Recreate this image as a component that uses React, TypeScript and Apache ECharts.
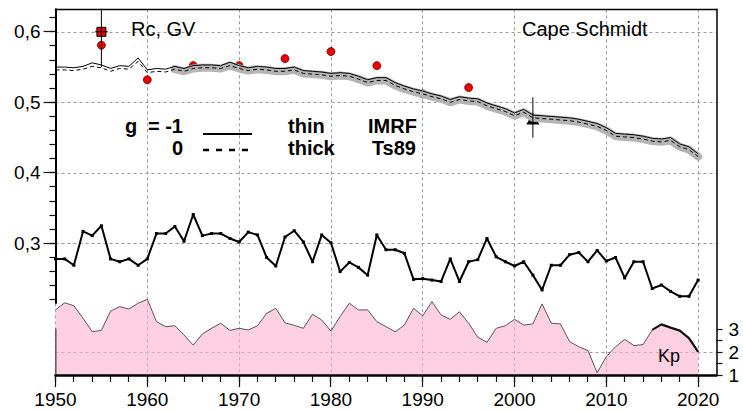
import { useEffect, useRef } from 'react';
import * as echarts from 'echarts';

// ---------- data ----------
const years: number[] = Array.from({ length: 71 }, (_, i) => 1950 + i);

// Cutoff rigidity, g = -1, IMRF (thin solid)
const rcImrf = [
  0.550, 0.550, 0.549, 0.551, 0.556, 0.553, 0.548, 0.552, 0.551, 0.563,
  0.546, 0.548, 0.547, 0.551, 0.548, 0.552, 0.553, 0.553, 0.552, 0.557,
  0.552, 0.549, 0.551, 0.550, 0.548, 0.548, 0.550, 0.545, 0.544, 0.543,
  0.541, 0.542, 0.541, 0.537, 0.532, 0.535, 0.535, 0.528, 0.523, 0.519,
  0.516, 0.512, 0.509, 0.504, 0.508, 0.506, 0.505, 0.499, 0.495, 0.491,
  0.485, 0.490, 0.482, 0.481, 0.480, 0.479, 0.478, 0.476, 0.473, 0.470,
  0.464, 0.456, 0.455, 0.454, 0.452, 0.449, 0.448, 0.450, 0.441, 0.437, 0.427,
];

// Cutoff rigidity, g = 0, Ts89 (dashed)
const rcTs89 = [
  0.546, 0.546, 0.545, 0.547, 0.551, 0.549, 0.544, 0.548, 0.547, 0.558,
  0.542, 0.544, 0.543, 0.547, 0.544, 0.548, 0.549, 0.549, 0.548, 0.552,
  0.548, 0.545, 0.547, 0.546, 0.544, 0.544, 0.546, 0.541, 0.540, 0.539,
  0.537, 0.538, 0.537, 0.533, 0.528, 0.531, 0.531, 0.524, 0.519, 0.515,
  0.512, 0.508, 0.505, 0.500, 0.504, 0.502, 0.501, 0.495, 0.491, 0.487,
  0.481, 0.486, 0.478, 0.477, 0.476, 0.475, 0.474, 0.472, 0.469, 0.466,
  0.460, 0.452, 0.451, 0.450, 0.448, 0.445, 0.444, 0.446, 0.437, 0.433, 0.423,
];
const bandStartYear = 1963;

// Middle (thick black) curve
const rcMid = [
  0.278, 0.278, 0.269, 0.317, 0.311, 0.325, 0.278, 0.274, 0.278, 0.269,
  0.278, 0.314, 0.314, 0.324, 0.303, 0.341, 0.311, 0.314, 0.314, 0.307,
  0.302, 0.316, 0.312, 0.280, 0.268, 0.309, 0.318, 0.302, 0.274, 0.312,
  0.301, 0.260, 0.273, 0.266, 0.255, 0.312, 0.291, 0.291, 0.286, 0.249,
  0.250, 0.248, 0.246, 0.278, 0.246, 0.274, 0.277, 0.307, 0.281, 0.274,
  0.268, 0.274, 0.255, 0.234, 0.269, 0.269, 0.284, 0.287, 0.274, 0.290,
  0.275, 0.280, 0.251, 0.274, 0.274, 0.236, 0.241, 0.232, 0.225, 0.225, 0.248,
];

// Kp index (pink area)
const kp = [
  3.83, 4.14, 4.01, 3.47, 2.88, 2.94, 3.78, 3.97, 3.87, 4.12,
  4.29, 3.32, 3.10, 3.14, 2.74, 2.30, 2.78, 3.03, 3.25, 2.94,
  3.03, 2.96, 3.14, 3.68, 3.90, 3.27, 3.16, 3.03, 3.64, 3.39,
  2.91, 3.54, 4.12, 3.83, 3.83, 3.32, 3.10, 2.88, 3.17, 3.90,
  3.57, 4.19, 3.61, 3.42, 3.75, 3.25, 2.64, 2.42, 3.03, 3.14,
  3.42, 3.17, 3.22, 4.09, 3.25, 3.22, 2.45, 2.23, 2.06, 1.10,
  1.80, 2.23, 2.55, 2.28, 2.32, 2.96, 3.20, 3.06, 2.93, 2.60, 2.01,
];
const kpThickStartYear = 2015;

// Measured Rc (red dots)
const obsYears = [1955, 1960, 1965, 1970, 1975, 1980, 1985, 1990, 1995];
const obsValues = [0.581, 0.532, 0.552, 0.552, 0.562, 0.572, 0.552, 0.512, 0.521];

// Reference point (red square) with error bars
const refYear = 1955;
const refValue = 0.600;
const refErrLow = 0.550;
const refErrHigh = 0.640;
const refYearErr = [1954.3, 1955.7];

// Triangle point with error bar
const triYear = 2002;
const triValue = 0.477;
const triErrLow = 0.450;
const triErrHigh = 0.507;

// Axis ticks
const xMin = 1950, xMax = 2022, xTickMax = 2020, xInterval = 10, xMinorInterval = 2;
const yMajorMin = 0.3, yMajorMax = 0.6, yMajorInterval = 0.1;
const yMinorMin = 0.22, yMinorMax = 0.62, yMinorInterval = 0.02;
const kpTickMin = 1, kpTickMax = 3, kpTickInterval = 0.5;

// ---------- layout ----------
const FONT = '"Liberation Sans", Arial, sans-serif';
const W = 743, H = 412;
const L = 55.5;
const R = 26.5;
const TOP = 9.3;
const BOT = 37;
const pxPerUnit = (243.4 - 31.8) / 0.3;
const yAt = (v: number) => 31.8 + (0.6 - v) * pxPerUnit;
const rcAxisMax = 0.6 + (31.8 - TOP) / pxPerUnit;
const rcAxisMin = 0.3 - (H - BOT - 243.4) / pxPerUnit;
const kpPx = (375 - 329) / 2;
const kpAxisMax = 1 + (H - BOT - TOP) / kpPx;
const xPx = (W - R - L) / (xMax - xMin);
const R2020 = W - (L + (xTickMax - xMin) * xPx);
const AXIS_Y = H - BOT;
const RIGHT_X = W - R;

const zip = (xs: number[], ys: number[]) => xs.map((x, i) => [x, ys[i]]);
const steps = (min: number, max: number, step: number) => {
  const out: number[] = [];
  const n = Math.round((max - min) / step);
  for (let i = 0; i <= n; i++) out.push(+(min + i * step).toFixed(6));
  return out;
};
const crisp = (v: number) => Math.round(v - 0.5) + 0.5;

function txt(text: string, x: number, y: number, size: number, weight: string, align: string) {
  return {
    type: 'text', x, y, z: 100,
    style: {
      text, fill: '#000', fontSize: size, fontWeight: weight, fontFamily: FONT,
      font: `${weight} ${size}px ${FONT}`,
      textAlign: align, align, textVerticalAlign: 'middle', verticalAlign: 'middle',
    },
  };
}

function seg(x1: number, y1: number, x2: number, y2: number) {
  return {
    type: 'line', z: 100,
    shape: { x1, y1, x2, y2 },
    style: { stroke: '#111', lineWidth: 1.2 },
  };
}

function staticGraphics(): any[] {
  return [
    txt('Rc, GV', 131, 29, 20, 'normal', 'left'),
    txt('Cape Schmidt', 522, 29, 20, 'normal', 'left'),
    txt('g', 125, 126, 20, 'bold', 'left'),
    txt('= -1', 183, 126, 20, 'bold', 'right'),
    txt('0', 183, 148, 20, 'bold', 'right'),
    txt('thin', 288, 126, 20, 'bold', 'left'),
    txt('thick', 288, 148, 20, 'bold', 'left'),
    txt('IMRF', 368, 126, 20, 'bold', 'left'),
    txt('Ts89', 416, 148, 20, 'bold', 'right'),
    txt('Kp', 658, 356, 18, 'normal', 'left'),
    {
      type: 'line', z: 100, shape: { x1: 203, y1: 134, x2: 252, y2: 134 },
      style: { stroke: '#000', lineWidth: 2 },
    },
    {
      type: 'line', z: 100, shape: { x1: 203, y1: 150, x2: 252, y2: 150 },
      style: { stroke: '#000', lineWidth: 2.5, lineDash: [6, 7] },
    },
  ];
}

function buildOption() {
  const bandIdx = years.indexOf(bandStartYear);
  const kpIdx = years.indexOf(kpThickStartYear);
  const hidden = { show: false };
  const hiddenAxis = (gridIndex: number) => ({
    type: 'value', gridIndex, min: 0, max: 1, show: false,
  });
  const gridLine = { show: true, lineStyle: { color: '#9a9a9a', type: [3, 3], width: 1 } };

  return {
    animation: false,
    backgroundColor: '#ffffff',
    grid: [
      { left: L, right: R, top: TOP, bottom: BOT }, // 0 data + frame
      { left: L, right: R2020, top: TOP, bottom: BOT }, // 1 x labels + vertical grid
      { left: L, right: R, top: yAt(yMajorMax), bottom: H - yAt(yMajorMin) }, // 2 y labels + horizontal grid
      { left: L, right: R, top: TOP, bottom: H - 303 }, // 3 left axis line
      { left: L, right: R, top: 329, bottom: BOT }, // 4 Kp labels
      { left: L, right: R, top: 352, bottom: BOT }, // 5 Kp=2 gridline
    ],
    xAxis: [
      {
        type: 'value', gridIndex: 0, min: xMin, max: xMax, position: 'bottom', z: 5,
        axisLine: { show: true, lineStyle: { color: '#000', width: 2.5 } },
        axisTick: hidden, axisLabel: hidden, splitLine: hidden,
      },
      {
        type: 'value', gridIndex: 0, min: xMin, max: xMax, position: 'top',
        axisLine: { show: true, lineStyle: { color: '#000', width: 1.3 } },
        axisTick: hidden, axisLabel: hidden, splitLine: hidden,
      },
      {
        type: 'value', gridIndex: 1, min: xMin, max: xTickMax, interval: xInterval, position: 'bottom',
        axisLine: hidden, axisTick: hidden,
        axisLabel: {
          show: true, fontSize: 19, fontFamily: FONT, color: '#000', margin: 15,
          formatter: (v: number) => String(v),
        },
        splitLine: gridLine,
      },
      hiddenAxis(2), hiddenAxis(3), hiddenAxis(4), hiddenAxis(5),
    ],
    yAxis: [
      { type: 'value', gridIndex: 0, min: rcAxisMin, max: rcAxisMax, show: false },
      {
        type: 'value', gridIndex: 0, min: 1, max: kpAxisMax, position: 'right',
        axisLine: { show: true, lineStyle: { color: '#000', width: 1.5 } },
        axisTick: hidden, axisLabel: hidden, splitLine: hidden,
      },
      hiddenAxis(1),
      {
        type: 'value', gridIndex: 2, min: yMajorMin, max: yMajorMax, interval: yMajorInterval, position: 'left',
        axisLine: hidden, axisTick: hidden,
        axisLabel: {
          show: true, fontSize: 19, fontFamily: FONT, color: '#000', margin: 15,
          formatter: (v: number) => v.toFixed(1).replace('.', ','),
        },
        splitLine: gridLine,
      },
      {
        type: 'value', gridIndex: 3, min: 0, max: 1, position: 'left',
        axisLine: { show: true, lineStyle: { color: '#000', width: 2 } },
        axisTick: hidden, axisLabel: hidden, splitLine: hidden,
      },
      {
        type: 'value', gridIndex: 4, min: kpTickMin, max: kpTickMax, interval: kpTickInterval, position: 'right',
        axisLine: { show: true, lineStyle: { color: '#000', width: 1.5 } },
        axisTick: hidden,
        axisLabel: {
          show: true, fontSize: 19, fontFamily: FONT, color: '#000', margin: 12,
          formatter: (v: number) => (Math.abs(v - Math.round(v)) < 1e-6 ? String(Math.round(v)) : ''),
        },
        splitLine: hidden,
      },
      {
        type: 'value', gridIndex: 5, min: 1, max: 2, interval: 1,
        axisLine: hidden, axisTick: hidden, axisLabel: hidden,
        splitLine: gridLine,
      },
    ],
    series: [
      {
        name: 'Kp', type: 'line', xAxisIndex: 0, yAxisIndex: 1,
        data: zip(years, kp), symbol: 'none',
        lineStyle: { color: '#555', width: 1 },
        areaStyle: { color: 'rgba(255,176,207,0.85)', origin: 'start' },
      },
      {
        name: 'Kp recent', type: 'line', xAxisIndex: 0, yAxisIndex: 1,
        data: zip(years.slice(kpIdx), kp.slice(kpIdx)), symbol: 'none',
        lineStyle: { color: '#111', width: 2.2 },
      },
      {
        name: 'mid', type: 'line', xAxisIndex: 0, yAxisIndex: 0,
        data: zip(years, rcMid), symbol: 'rect', symbolSize: 3, showSymbol: true,
        itemStyle: { color: '#000' },
        lineStyle: { color: '#000', width: 2 },
      },
      {
        name: 'band', type: 'line', xAxisIndex: 0, yAxisIndex: 0,
        data: zip(years.slice(bandIdx), rcTs89.slice(bandIdx)), symbol: 'none',
        lineStyle: { color: '#b4b4b4', width: 8, cap: 'round', join: 'round' },
      },
      {
        name: 'IMRF', type: 'line', xAxisIndex: 0, yAxisIndex: 0,
        data: zip(years, rcImrf), symbol: 'none',
        lineStyle: { color: '#000', width: 1 },
      },
      {
        name: 'Ts89', type: 'line', xAxisIndex: 0, yAxisIndex: 0,
        data: zip(years, rcTs89), symbol: 'none',
        lineStyle: { color: '#000', width: 1, type: [4, 3] },
      },
      {
        name: 'refErrV', type: 'line', xAxisIndex: 0, yAxisIndex: 0,
        data: [[refYear, refErrHigh], [refYear, refErrLow]], symbol: 'none',
        lineStyle: { color: '#000', width: 1 },
      },
      {
        name: 'refErrH', type: 'line', xAxisIndex: 0, yAxisIndex: 0,
        data: [[refYearErr[0], refValue], [refYearErr[1], refValue]], symbol: 'none',
        lineStyle: { color: '#000', width: 1 },
      },
      {
        name: 'triErr', type: 'line', xAxisIndex: 0, yAxisIndex: 0,
        data: [[triYear, triErrHigh], [triYear, triErrLow]], symbol: 'none',
        lineStyle: { color: '#000', width: 1 },
      },
      {
        name: 'obs', type: 'scatter', xAxisIndex: 0, yAxisIndex: 0,
        data: zip(obsYears, obsValues), symbol: 'circle', symbolSize: 8,
        itemStyle: { color: '#ee0000', borderColor: '#600', borderWidth: 0.8, opacity: 1 },
      },
      {
        name: 'ref', type: 'scatter', xAxisIndex: 0, yAxisIndex: 0,
        data: [[refYear, refValue]], symbol: 'rect', symbolSize: 9,
        itemStyle: { color: '#ee0000', borderColor: '#000', borderWidth: 1, opacity: 1 },
      },
      {
        name: 'tri', type: 'scatter', xAxisIndex: 0, yAxisIndex: 0,
        data: [[triYear, triValue]], symbol: 'triangle', symbolSize: [13, 12],
        itemStyle: { color: '#000', opacity: 1 },
      },
    ],
    graphic: staticGraphics(),
  };
}

// Axis tick marks, placed through the chart's own axis scales.
function tickGraphics(chart: echarts.ECharts): any[] {
  const px = (q: any, v: number) => {
    const r: any = chart.convertToPixel(q, v);
    return Array.isArray(r) ? r[0] : r;
  };
  const out: any[] = [];
  steps(xMin, xTickMax, xMinorInterval).forEach((v) => {
    const x = crisp(px({ xAxisIndex: 0 }, v));
    out.push(seg(x, AXIS_Y, x, AXIS_Y + 7));
  });
  steps(xMin, xTickMax, xInterval).forEach((v) => {
    const x = crisp(px({ xAxisIndex: 0 }, v));
    out.push(seg(x, AXIS_Y, x, AXIS_Y + 12));
  });
  steps(yMinorMin, yMinorMax, yMinorInterval).forEach((v) => {
    const y = crisp(px({ yAxisIndex: 0 }, v));
    out.push(seg(L - 6, y, L, y));
  });
  steps(yMajorMin, yMajorMax, yMajorInterval).forEach((v) => {
    const y = crisp(px({ yAxisIndex: 0 }, v));
    out.push(seg(L - 12, y, L, y));
  });
  steps(kpTickMin, kpTickMax, kpTickInterval).forEach((v) => {
    const y = crisp(px({ yAxisIndex: 1 }, v));
    out.push(seg(RIGHT_X, y, RIGHT_X + 6, y));
  });
  return out;
}

export default function App() {
  const ref = useRef<HTMLDivElement>(null);
  useEffect(() => {
    document.body.style.margin = '0';
    const chart = echarts.init(ref.current!, null, { renderer: 'svg', width: W, height: H });
    chart.setOption(buildOption() as any);
    chart.setOption(
      { graphic: [...staticGraphics(), ...tickGraphics(chart)] } as any,
      { replaceMerge: ['graphic'] } as any,
    );
    return () => chart.dispose();
  }, []);
  return <div ref={ref} style={{ width: W, height: H, background: '#fff' }} />;
}
